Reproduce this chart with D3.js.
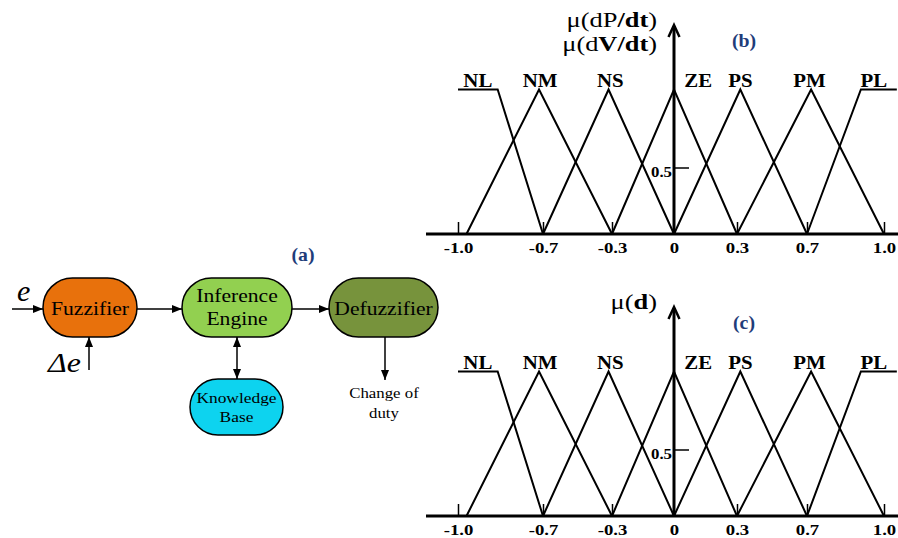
<!doctype html>
<html lang="en">
<head>
<meta charset="utf-8">
<title>Fuzzy controller and membership functions</title>
<script src="https://d3js.org/d3.v7.min.js"></script>
<style>
  body { margin: 0; background: #fff; }
  svg { display: block; font-family: "Liberation Serif", "Times New Roman", serif; }
</style>
</head>
<body>
<svg id="chart" width="898" height="538"></svg>
<script>
// membership functions, [input value, membership degree]
const NL = [[-1.0, 1], [-0.86, 1], [-0.7, 0]];
const NM = [[-0.97, 0], [-0.714, 1], [-0.3, 0]];
const NS = [[-0.7, 0], [-0.32, 1], [0, 0]];
const ZE = [[-0.3, 0], [0, 1], [0.3, 0]];
const PS = [[0, 0], [0.319, 1], [0.7, 0]];
const PM = [[0.3, 0], [0.716, 1], [1.0, 0]];
const PL = [[0.7, 0], [0.91, 1], [1.05, 1]];

const setNames = ["NL", "NM", "NS", "ZE", "PS", "PM", "PL"];
const setLabelAt = [-0.93, -0.71, -0.31, 0.115, 0.32, 0.71, 0.96];

const xTicks = [-1.0, -0.7, -0.3, 0, 0.3, 0.7, 1.0];
const xTickLabels = ["-1.0", "-0.7", "-0.3", "0", "0.3", "0.7", "1.0"];

// block diagram
const blockNames = [["Fuzzifier"], ["Inference", "Engine"], ["Defuzzifier"], ["Knowledge", "Base"]];
const blockColors = ["#e8710c", "#92d050", "#77933c", "#0dd3ef"];

const sets = [NL, NM, NS, ZE, PS, PM, PL];
const navy = "#1f3d7a";
const SX = 1.2; // the picture is a bit stretched sideways

const svg = d3.select("#chart");

// defs: arrowheads
const defs = svg.append("defs");
defs.append("marker").attr("id", "head")
  .attr("markerUnits", "userSpaceOnUse")
  .attr("viewBox", "0 0 10 8").attr("refX", 10).attr("refY", 4)
  .attr("markerWidth", 10).attr("markerHeight", 8).attr("orient", "auto-start-reverse")
  .append("path").attr("d", "M0,0L10,4L0,8Z").attr("fill", "#000");

function label(g, x, y, parts, opts) {
  opts = opts || {};
  const t = g.append("text")
    .attr("transform", `translate(${x},${y}) scale(${opts.sx || SX},1)`)
    .attr("text-anchor", opts.anchor || "middle")
    .attr("font-size", opts.size || 18)
    .attr("fill", opts.color || "#000");
  if (opts.bold) t.attr("font-weight", "bold");
  if (opts.italic) t.attr("font-style", "italic");
  if (typeof parts === "string") parts = [[parts, false]];
  parts.forEach(p => {
    t.append("tspan").text(p[0]).attr("font-weight", p[1] ? "bold" : null);
  });
  return t;
}

// ---------- membership panels ----------
const x = d3.scaleLinear().domain(xTicks).range([458, 543, 612, 674, 737, 807, 884]);

function drawPanel(offset, yLabels, tag) {
  const g = svg.append("g").attr("transform", `translate(0,${offset})`);
  const y = d3.scaleLinear().domain([0, 0.5, 1]).range([234, 168, 89.5]);
  const line = d3.line().x(d => x(d[0])).y(d => y(d[1]));

  // x axis, ticks point up
  const ax = g.append("g").attr("transform", `translate(0,${y(0)})`)
    .call(d3.axisBottom(x).tickValues(xTicks)
      .tickFormat((d, i) => xTickLabels[i])
      .tickSizeInner(-12).tickSizeOuter(0).tickPadding(8));
  ax.select(".domain").remove();
  ax.selectAll(".tick line").attr("stroke-width", 1.5).filter(d => d === 0).remove();
  ax.selectAll(".tick text")
    .attr("font-family", "Liberation Serif, Times New Roman, serif")
    .attr("font-size", 15).attr("font-weight", "bold").attr("fill", "#000")
    .attr("transform", `scale(1.25,1)`);
  g.append("line").attr("x1", 426).attr("x2", 898)
    .attr("y1", y(0)).attr("y2", y(0)).attr("stroke", "#000").attr("stroke-width", 3);

  // membership functions
  g.selectAll("path.mf").data(sets).enter().append("path")
    .attr("class", "mf").attr("d", line)
    .attr("fill", "none").attr("stroke", "#000").attr("stroke-width", 2);

  setNames.forEach((n, i) => label(g, x(setLabelAt[i]), 87, n, { bold: true, size: 18, sx: 1.16 }));

  // vertical axis with open arrow
  const x0 = x(0);
  g.append("line").attr("x1", x0).attr("x2", x0).attr("y1", y(0) + 1).attr("y2", 26)
    .attr("stroke", "#000").attr("stroke-width", 3);
  g.append("path").attr("d", `M${x0 - 5.5},37L${x0},25L${x0 + 5.5},37`)
    .attr("fill", "none").attr("stroke", "#000").attr("stroke-width", 2.5);
  g.append("line").attr("x1", x0).attr("x2", x0 + 15).attr("y1", y(0.5)).attr("y2", y(0.5))
    .attr("stroke", "#000").attr("stroke-width", 1.5);
  label(g, x0 - 2, y(0.5) + 9, "0.5", { bold: true, size: 14, anchor: "end" });

  yLabels.forEach((parts, i) => label(g, 657, 27 + i * 24, parts, { size: 22, anchor: "end", sx: 1.2 }));
  label(g, 744, 47, tag, { bold: true, size: 18, color: navy, sx: 1.1 });
}

drawPanel(0, [
  [["\u03bc(dP", false], ["/dt", true], [")", false]],
  [["\u03bc(d", false], ["V/dt", true], [")", false]]
], "(b)");
drawPanel(282, [[["\u03bc(", false], ["d", true], [")", false]]], "(c)");

// ---------- block diagram ----------
const blocks = [
  { x: 43, y: 278, w: 94, h: 59, lines: [315] },
  { x: 182, y: 278, w: 110, h: 59, lines: [302, 325] },
  { x: 329, y: 278, w: 109, h: 59, lines: [315] },
  { x: 190, y: 379, w: 93, h: 56, lines: [403, 422] }
];
const diag = svg.append("g");
blocks.forEach((b, i) => {
  diag.append("rect").attr("x", b.x).attr("y", b.y).attr("width", b.w).attr("height", b.h)
    .attr("rx", b.h / 2).attr("ry", b.h / 2)
    .attr("fill", blockColors[i]).attr("stroke", "#000").attr("stroke-width", 1.5);
  blockNames[i].forEach((txt, k) =>
    label(diag, b.x + b.w / 2, b.lines[k], txt, { size: i === 3 ? 14.5 : 18 }));
});

const arrows = [
  [12, 309, 43, 309], [137, 309, 182, 309], [292, 309, 329, 309],
  [89, 370, 89, 337], [385, 337, 385, 380]
];
arrows.forEach(a => diag.append("line")
  .attr("x1", a[0]).attr("y1", a[1]).attr("x2", a[2]).attr("y2", a[3])
  .attr("stroke", "#000").attr("stroke-width", 1.5).attr("marker-end", "url(#head)"));
diag.append("line").attr("x1", 237).attr("y1", 337).attr("x2", 237).attr("y2", 379)
  .attr("stroke", "#000").attr("stroke-width", 1.5)
  .attr("marker-start", "url(#head)").attr("marker-end", "url(#head)");

label(diag, 17, 301, "e", { italic: true, size: 30, anchor: "start", sx: 1 });
label(diag, 48, 372, "\u0394e", { italic: true, size: 27, anchor: "start", sx: 1.18 });
label(diag, 303, 261, "(a)", { bold: true, size: 18, color: navy, sx: 1.1 });
label(diag, 384, 398, "Change of", { size: 14 });
label(diag, 384, 418, "duty", { size: 14 });
</script>
</body>
</html>
